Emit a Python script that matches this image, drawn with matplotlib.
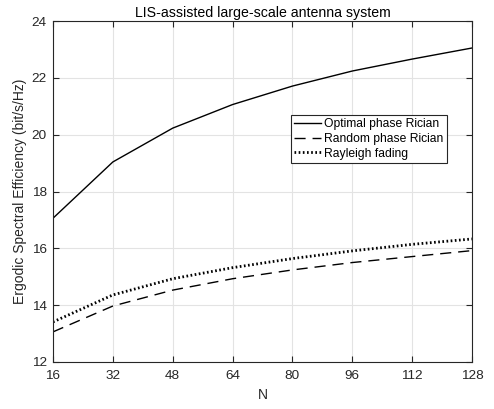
import matplotlib.pyplot as plt

# data
N = [16, 32, 48, 64, 80, 96, 112, 128]
optimal_rician = [17.06, 19.04, 20.23, 21.06, 21.71, 22.24, 22.66, 23.05]
random_rician = [13.06, 13.97, 14.53, 14.93, 15.24, 15.50, 15.71, 15.92]
rayleigh = [13.41, 14.36, 14.93, 15.32, 15.64, 15.91, 16.14, 16.33]

x_ticks = [16, 32, 48, 64, 80, 96, 112, 128]
y_ticks = [12, 14, 16, 18, 20, 22, 24]

TXT = "#262626"
plt.rcParams["font.family"] = ["Liberation Sans", "DejaVu Sans"]

fig = plt.figure(figsize=(4.94, 4.09), dpi=100)
ax = fig.add_axes([53 / 494, 1 - 362 / 409, 419 / 494, 341 / 409])

ax.plot(N, optimal_rician, color="black", lw=1.0, ls="-", label="Optimal phase Rician")
ax.plot(N, random_rician, color="black", lw=1.0, ls=(0, (8, 5)), label="Random phase Rician")
ax.plot(N, rayleigh, color="black", lw=2.0, ls=(0, (0.6, 0.9)), label="Rayleigh fading")

ax.set_xlim(16, 128)
ax.set_ylim(12, 24)
ax.set_xticks(x_ticks)
ax.set_yticks(y_ticks)
ax.grid(True, color="#e3e3e3", lw=0.8)
ax.set_axisbelow(True)

ax.tick_params(direction="in", top=True, right=True, length=4, width=0.8,
               colors=TXT, labelsize=9.7)
ax.tick_params(axis="x", pad=6)
ax.tick_params(axis="y", pad=4.5)
for s in ax.spines.values():
    s.set_color(TXT)
    s.set_linewidth(0.8)

ax.set_xlabel("N", fontsize=10, color=TXT, labelpad=4)
ax.set_ylabel("Ergodic Spectral Efficiency (bit/s/Hz)", fontsize=10, color=TXT, labelpad=3)
ax.set_title("LIS-assisted large-scale antenna system", fontsize=10.2, color="black", pad=3)

leg = ax.legend(loc="upper left", bbox_to_anchor=(0.567, 0.725), fontsize=8.7,
                frameon=True, fancybox=False, edgecolor=TXT, framealpha=1,
                borderpad=0.3, labelspacing=0.22, handlelength=2.2,
                handletextpad=0.3, borderaxespad=0)
leg.get_frame().set_linewidth(0.8)
for t in leg.get_texts():
    t.set_color("black")

fig.savefig("out.png", dpi=100)
